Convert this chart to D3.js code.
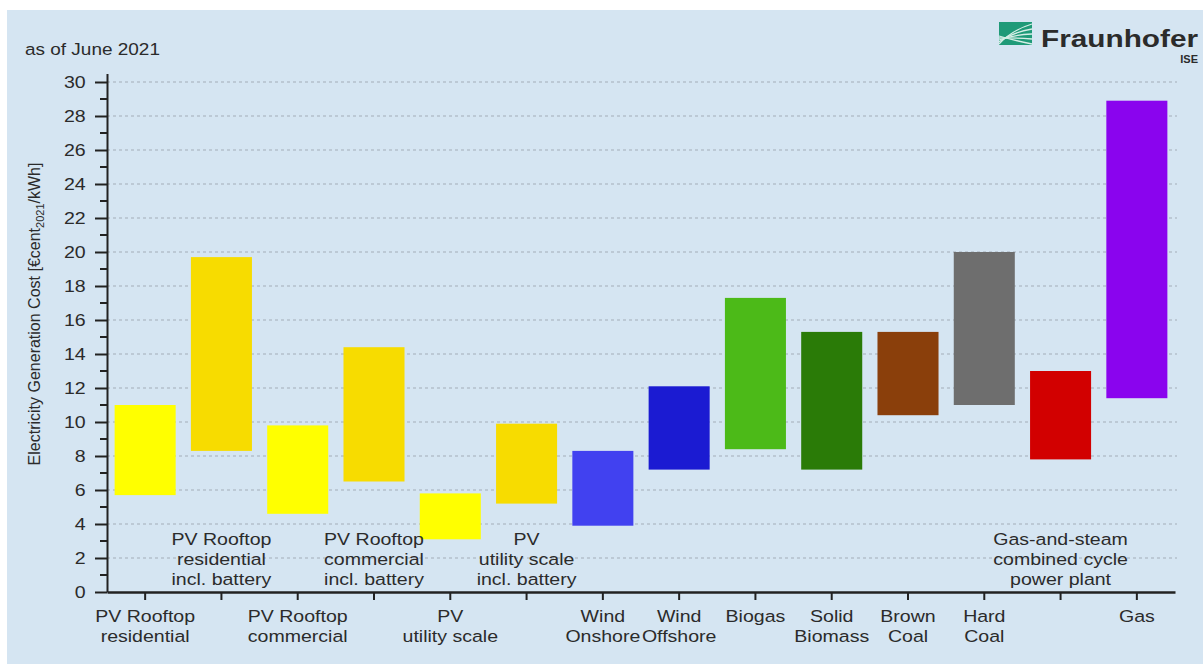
<!DOCTYPE html>
<html>
<head>
<meta charset="utf-8">
<script src="https://cdn.jsdelivr.net/npm/d3@7"></script>
<style>
  body { margin: 0; background: #fff; }
  text { font-family: "Liberation Sans", Arial, sans-serif; fill: #2b2b2b; }
</style>
</head>
<body>
<div id="chart"></div>
<script>
// cost ranges in €cent2021/kWh
var categories = ["pvResidential", "pvResidentialBattery", "pvCommercial", "pvCommercialBattery",
    "pvUtility", "pvUtilityBattery", "windOnshore", "windOffshore", "biogas", "solidBiomass",
    "brownCoal", "hardCoal", "ccgt", "gas"];
var lowValues = [5.7, 8.3, 4.6, 6.5, 3.1, 5.2, 3.9, 7.2, 8.4, 7.2, 10.4, 11.0, 7.8, 11.4];
var highValues = [11.0, 19.7, 9.8, 14.4, 5.8, 9.9, 8.3, 12.1, 17.3, 15.3, 15.3, 20.0, 13.0, 28.9];
var barColors = ["#ffff00", "#f7dc00", "#ffff00", "#f7dc00", "#ffff00", "#f7dc00", "#4141f0", "#1b1bd2",
    "#4cba18", "#2a7b07", "#8a3f0b", "#6e6e6e", "#d20000", "#8a04ee"];
var labelLines = [
    ["PV Rooftop", "residential"],
    ["PV Rooftop", "residential", "incl. battery"],
    ["PV Rooftop", "commercial"],
    ["PV Rooftop", "commercial", "incl. battery"],
    ["PV", "utility scale"],
    ["PV", "utility scale", "incl. battery"],
    ["Wind", "Onshore"],
    ["Wind", "Offshore"],
    ["Biogas"],
    ["Solid", "Biomass"],
    ["Brown", "Coal"],
    ["Hard", "Coal"],
    ["Gas-and-steam", "combined cycle", "power plant"],
    ["Gas"]
];
// true = label sits inside the plot above the axis
var labelInside = [false, true, false, true, false, true, false, false, false, false, false, false, true, false];
var majorTicks = d3.range(0, 31, 2);
var minorTicks = d3.range(1, 30, 2);

var w = 1203;
var h = 664;
var left = 107, bottom = 592, right = 1175;
var stretch = 1.15;

var svg = d3.select("#chart")
    .append("svg")
    .attr("width", w)
    .attr("height", h);

// light blue panel, white strip on top and left
svg.append("rect")
    .attr("x", 7)
    .attr("y", 10)
    .attr("width", w - 7)
    .attr("height", h - 10)
    .attr("fill", "#d5e5f2");

var xScale = d3.scaleBand()
    .domain(categories)
    .range([left, right])
    .paddingInner(0.2)
    .paddingOuter(0.1);

var yScale = d3.scaleLinear()
    .domain([0, 30.5])
    .range([bottom, 73.5]);

// dashed grid
svg.append("g")
    .selectAll("line")
    .data(majorTicks.slice(1))
    .enter()
    .append("line")
    .attr("x1", left)
    .attr("x2", right + 2)
    .attr("y1", function(d) { return yScale(d); })
    .attr("y2", function(d) { return yScale(d); })
    .attr("stroke", "#a3adb8")
    .attr("stroke-width", 1)
    .attr("stroke-dasharray", "3,3");

// bars
svg.append("g")
    .selectAll("rect")
    .data(categories)
    .enter()
    .append("rect")
    .attr("x", function(d) { return xScale(d); })
    .attr("width", xScale.bandwidth())
    .attr("y", function(d, i) { return yScale(highValues[i]); })
    .attr("height", function(d, i) { return yScale(lowValues[i]) - yScale(highValues[i]); })
    .attr("fill", function(d, i) { return barColors[i]; });

// y axis
var yAxis = d3.axisLeft(yScale)
    .tickValues(majorTicks)
    .tickSize(12)
    .tickSizeOuter(0)
    .tickPadding(6.5);

var yg = svg.append("g")
    .attr("transform", "translate(" + left + ",0)")
    .call(yAxis);
yg.select(".domain").attr("stroke", "#222").attr("stroke-width", 2);
yg.selectAll(".tick line").attr("stroke", "#222").attr("stroke-width", 2);
yg.selectAll(".tick text")
    .attr("font-size", 17)
    .attr("font-family", "Liberation Sans, Arial, sans-serif")
    .attr("fill", "#2b2b2b")
    .attr("transform", "scale(" + stretch + ",1)");

// minor ticks
yg.append("g")
    .selectAll("line")
    .data(minorTicks)
    .enter()
    .append("line")
    .attr("x1", -7)
    .attr("x2", 0)
    .attr("y1", function(d) { return yScale(d); })
    .attr("y2", function(d) { return yScale(d); })
    .attr("stroke", "#222")
    .attr("stroke-width", 2);

// x axis
var xAxis = d3.axisBottom(xScale)
    .tickSize(8)
    .tickSizeOuter(0)
    .tickFormat("");

var xg = svg.append("g")
    .attr("transform", "translate(0," + bottom + ")")
    .call(xAxis);
xg.select(".domain").attr("stroke", "#222").attr("stroke-width", 2.5);
xg.selectAll(".tick line").attr("stroke", "#222").attr("stroke-width", 2);

// category labels
var labels = svg.append("g");
categories.forEach(function(c, i) {
    var cx = xScale(c) + xScale.bandwidth() / 2;
    var y0 = labelInside[i] ? 545 : 622;
    labelLines[i].forEach(function(line, j) {
        labels.append("text")
            .attr("transform", "translate(" + cx + "," + (y0 + j * 20) + ") scale(" + stretch + ",1)")
            .attr("text-anchor", "middle")
            .attr("font-size", 17)
            .text(line);
    });
});

// y axis title with subscript
var title = svg.append("text")
    .attr("transform", "translate(40,314) rotate(-90)")
    .attr("text-anchor", "middle")
    .attr("font-size", 16);
title.append("tspan").text("Electricity Generation Cost  [€cent");
title.append("tspan").attr("font-size", 11).attr("dy", 4).text("2021");
title.append("tspan").attr("dy", -4).text("/kWh]");

svg.append("text")
    .attr("transform", "translate(25,55) scale(" + stretch + ",1)")
    .attr("font-size", 16.5)
    .text("as of June 2021");

// Fraunhofer logo
var logo = svg.append("g");
logo.append("rect")
    .attr("x", 999)
    .attr("y", 22)
    .attr("width", 33)
    .attr("height", 23)
    .attr("fill", "#1f9a78");
[0, 5, 10, 15, 20].forEach(function(o) {
    logo.append("path")
        .attr("d", "M999," + (44 - o * 0.4) + " Q1012," + (30 + o * 0.5) + " 1032," + (24 + o))
        .attr("fill", "none")
        .attr("stroke", "#d5eee6")
        .attr("stroke-width", 1.3);
});
logo.append("text")
    .attr("x", 1041)
    .attr("y", 47)
    .attr("font-size", 23)
    .attr("font-weight", "bold")
    .attr("textLength", 157)
    .attr("lengthAdjust", "spacingAndGlyphs")
    .attr("fill", "#1a1a1a")
    .text("Fraunhofer");
logo.append("text")
    .attr("x", 1198)
    .attr("y", 63)
    .attr("text-anchor", "end")
    .attr("font-size", 11)
    .attr("font-weight", "bold")
    .attr("fill", "#1a1a1a")
    .text("ISE");
</script>
</body>
</html>
